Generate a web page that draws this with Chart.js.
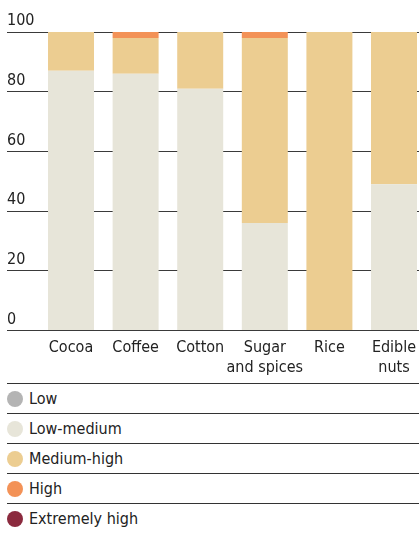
<!DOCTYPE html>
<html>
<head>
<meta charset="utf-8">
<script src="https://cdn.jsdelivr.net/npm/chart.js@4.4.0/dist/chart.umd.min.js"></script>
<style>
  html, body { margin: 0; padding: 0; background: #fff; overflow: hidden; }
  body { width: 419px; height: 533px; font-family: 'DejaVu Sans Condensed', 'Liberation Sans Narrow', Roboto, sans-serif; color: #222; }
  #wrap { position: absolute; left: 0; top: 0; width: 419px; height: 377px; }
  #legend { position: absolute; left: 7px; top: 383px; width: 412px; }
  .row { height: 30px; border-top: 1px solid #333; display: flex; align-items: center; box-sizing: border-box; font-size: 16px; }
  .dot { width: 16px; height: 16px; border-radius: 50%; margin-right: 6px; flex: none; }
</style>
</head>
<body>
<div id="wrap"><canvas id="chart"></canvas></div>
<div id="legend"></div>
<script>
// Commodity categories along the x axis
const categories = [['Cocoa'], ['Coffee'], ['Cotton'], ['Sugar', 'and spices'], ['Rice'], ['Edible', 'nuts']];

// Share of each risk level per commodity (percent)
const low           = [0, 0, 0, 0, 0, 0];
const lowMedium     = [87, 86, 81, 36, 0, 49];
const mediumHigh    = [13, 12, 19, 62, 100, 51];
const high          = [0, 2, 0, 2, 0, 0];
const extremelyHigh = [0, 0, 0, 0, 0, 0];

// Y axis tick values
const yTicks = [0, 20, 40, 60, 80, 100];

const seriesNames  = ['Low', 'Low-medium', 'Medium-high', 'High', 'Extremely high'];
const seriesColors = ['#b4b4b4', '#e7e5d9', '#eccd91', '#f39257', '#8b2a3e'];
const seriesValues = [low, lowMedium, mediumHigh, high, extremelyHigh];

const FONT = "'DejaVu Sans Condensed', 'Liberation Sans Narrow', Roboto, sans-serif";

const datasets = seriesNames.map((name, s) => ({
  label: name,
  data: seriesValues[s].map((v, i) => ({ x: i, y: v })),
  backgroundColor: seriesColors[s],
  borderWidth: 0,
  categoryPercentage: 1,
  barPercentage: 0.712
}));

new Chart(document.getElementById('chart'), {
  type: 'bar',
  data: { datasets },
  options: {
    responsive: true,
    maintainAspectRatio: false,
    animation: false,
    events: [],
    layout: { padding: { left: 7, right: 0, top: 32, bottom: 0 } },
    plugins: { legend: { display: false }, tooltip: { enabled: false } },
    scales: {
      x: {
        type: 'linear',
        stacked: true,
        offset: false,
        min: -0.991,
        max: 5.387,
        grid: { display: false },
        border: { display: false },
        afterBuildTicks: (axis) => { axis.ticks = categories.map((_, i) => ({ value: i })); },
        ticks: {
          autoSkip: false,
          maxRotation: 0,
          padding: 0,
          color: '#222',
          font: { family: FONT, size: 16, lineHeight: 1.2 },
          callback: (v) => categories[v]
        }
      },
      y: {
        stacked: true,
        min: 0,
        max: 100,
        afterBuildTicks: (axis) => { axis.ticks = yTicks.map(v => ({ value: v })); },
        grid: { color: '#3a3a3a', lineWidth: 1, drawTicks: false },
        border: { display: false },
        ticks: {
          mirror: true,
          padding: 0,
          labelOffset: -11,
          color: '#222',
          font: { family: FONT, size: 16 }
        }
      }
    }
  }
});

// Legend rows listing every risk level
const legend = document.getElementById('legend');
seriesNames.forEach((name, s) => {
  const row = document.createElement('div');
  row.className = 'row';
  const dot = document.createElement('span');
  dot.className = 'dot';
  dot.style.background = seriesColors[s];
  const text = document.createElement('span');
  text.textContent = name;
  row.appendChild(dot);
  row.appendChild(text);
  legend.appendChild(row);
});
</script>
</body>
</html>
